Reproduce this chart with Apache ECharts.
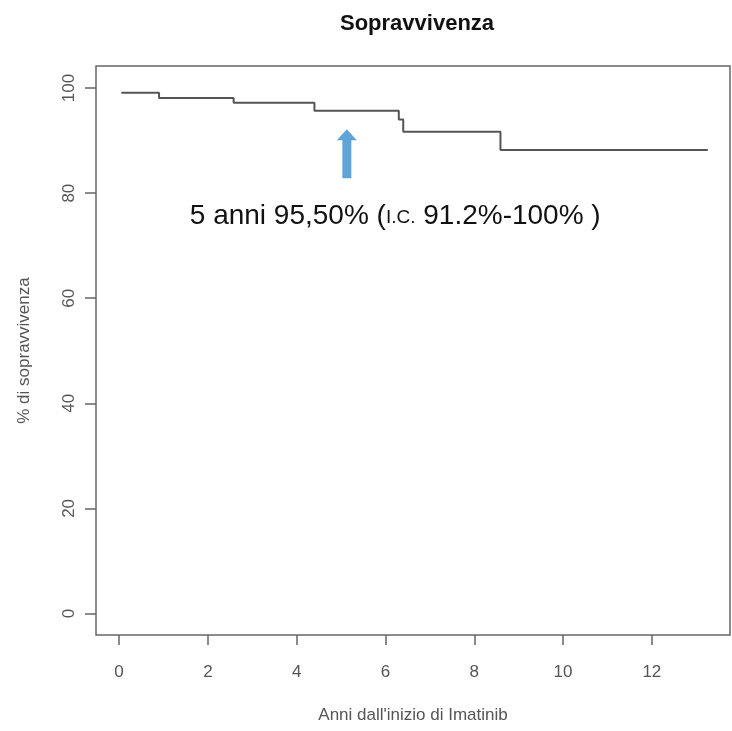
<!DOCTYPE html>
<html>
<head>
<meta charset="utf-8">
<script src="https://cdn.jsdelivr.net/npm/echarts@6/dist/echarts.min.js"></script>
<style>
    html, body { margin: 0; padding: 0; background: #fff; }
    #chart { width: 732px; height: 731px; }
</style>
</head>
<body>
<div id="chart"></div>
<script>
// tempi (anni) e sopravvivenza (%) della curva di Kaplan-Meier
const anni = [0.05, 0.90, 2.58, 4.40, 6.30, 6.40, 8.59, 13.26]
const sopravvivenza = [99.1, 98.1, 97.2, 95.7, 94.0, 91.7, 88.2, 88.2]

const xTicks = [0, 2, 4, 6, 8, 10, 12]
const yTicks = [0, 20, 40, 60, 80, 100]

// freccia e nota a 5 anni
const frecciaPunto = [5.13, 87.5]
const notaPunto = [6.22, 75.6]

const labelColor = '#555'
const fontFamily = 'Liberation Sans, Arial, sans-serif'

const chart = echarts.init(document.getElementById('chart'))

chart.setOption({
    backgroundColor: '#fff',
    animation: false,
    title: {
        text: 'Sopravvivenza',
        left: 335,
        top: 8,
        textStyle: {
            fontFamily: fontFamily,
            fontSize: 22,
            fontWeight: 'bold',
            color: '#111'
        }
    },
    grid: {
        left: 96,
        right: 2,
        top: 66,
        bottom: 96,
        show: true,
        borderColor: '#666',
        borderWidth: 1.5
    },
    xAxis: {
        type: 'value',
        min: -0.52,
        max: 13.76,
        name: "Anni dall'inizio di Imatinib",
        nameLocation: 'middle',
        nameGap: 72,
        nameTextStyle: { fontFamily: fontFamily, fontSize: 17, color: labelColor },
        axisLine: { show: false, onZero: false },
        splitLine: { show: false },
        axisTick: {
            show: true,
            length: 10,
            customValues: xTicks,
            lineStyle: { color: '#666', width: 1.5 }
        },
        axisLabel: {
            customValues: xTicks,
            margin: 29,
            fontFamily: fontFamily,
            fontSize: 17,
            color: labelColor
        }
    },
    yAxis: {
        type: 'value',
        min: -4.1,
        max: 104.2,
        name: '% di sopravvivenza',
        nameLocation: 'middle',
        nameRotate: 90,
        nameGap: 63,
        nameTextStyle: { fontFamily: fontFamily, fontSize: 17, color: labelColor },
        axisLine: { show: false, onZero: false },
        splitLine: { show: false },
        axisTick: {
            show: true,
            length: 11,
            customValues: yTicks,
            lineStyle: { color: '#666', width: 1.5 }
        },
        axisLabel: {
            customValues: yTicks,
            rotate: 90,
            margin: 18,
            fontFamily: fontFamily,
            fontSize: 17,
            color: labelColor
        }
    },
    series: [
        {
            type: 'line',
            step: 'end',
            symbol: 'none',
            data: anni.map((t, i) => [t, sopravvivenza[i]]),
            lineStyle: { color: '#555', width: 2 },
            markPoint: {
                silent: true,
                data: [
                    {
                        coord: frecciaPunto,
                        symbol: 'path://M10,0 L20,11 L14.5,11 L14.5,49 L5.5,49 L5.5,11 L0,11 Z',
                        symbolSize: [20, 49],
                        symbolKeepAspect: false,
                        itemStyle: { color: '#5da5d8' },
                        label: { show: false }
                    },
                    {
                        coord: notaPunto,
                        symbol: 'circle',
                        symbolSize: 1,
                        itemStyle: { color: 'rgba(0,0,0,0)' },
                        label: {
                            show: true,
                            position: 'inside',
                            formatter: '{a|5 anni 95,50% (}{b|I.C.}{a| 91.2%-100% )}',
                            rich: {
                                a: { fontFamily: fontFamily, fontSize: 28, lineHeight: 32, color: '#111' },
                                b: {
                                    fontFamily: fontFamily,
                                    fontSize: 19,
                                    lineHeight: 32,
                                    verticalAlign: 'bottom',
                                    padding: [0, 0, 5, 0],
                                    color: '#111'
                                }
                            }
                        }
                    }
                ]
            }
        }
    ]
})
</script>
</body>
</html>
